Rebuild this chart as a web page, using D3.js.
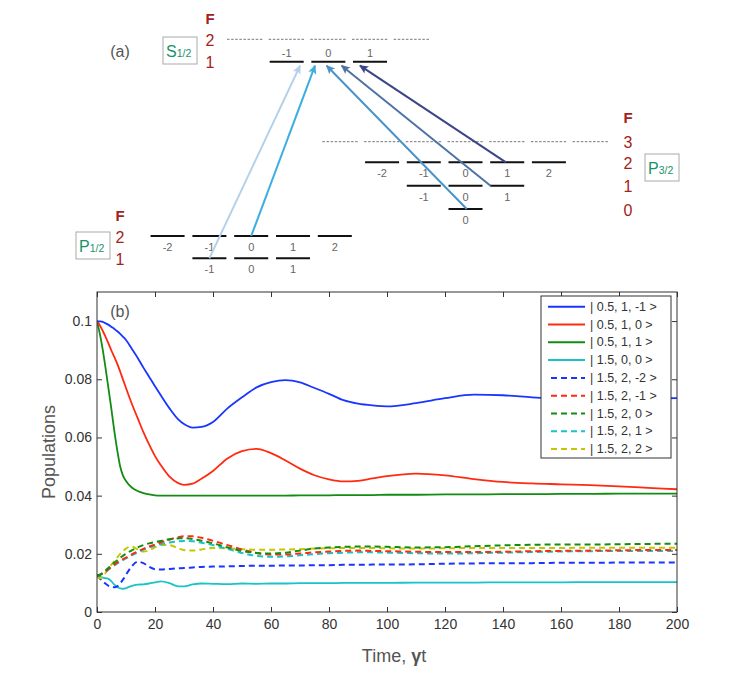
<!DOCTYPE html>
<meta charset="utf-8">
<title>Level scheme and populations</title>
<style>
body { margin: 0; background: #fff; }
text { font-family: "Liberation Sans", Arial, sans-serif; }
.axis path, .axis line { stroke: #333; }
.axis text { fill: #333; font-size: 14px; }
</style>
<body>
<script src="https://cdn.jsdelivr.net/npm/d3@7/dist/d3.min.js"></script>
<script>
var width = 747, height = 677;

// ---- panel (b) data ----
var times = [0,1,2,3,4,5,6,7,8,9,10,12,14,16,18,20,22,25,28,30,33,36,40,45,50,55,60,65,70,75,80,85,90,95,100,110,120,130,140,150,160,170,180,190,200];

var s05_1_m1 = [0.1000,0.0999,0.0997,0.0992,0.0987,0.0980,0.0973,0.0965,0.0956,0.0946,0.0935,0.0905,0.0874,0.0840,0.0808,0.0776,0.0745,0.0700,0.0662,0.0646,0.0634,0.0636,0.0653,0.0700,0.0738,0.0772,0.0790,0.0797,0.0789,0.0770,0.0750,0.0728,0.0716,0.0710,0.0707,0.0718,0.0735,0.0747,0.0745,0.0738,0.0733,0.0731,0.0732,0.0734,0.0735];
var s05_1_0  = [0.1000,0.0985,0.0966,0.0945,0.0922,0.0898,0.0876,0.0853,0.0826,0.0798,0.0770,0.0716,0.0667,0.0618,0.0575,0.0536,0.0505,0.0465,0.0443,0.0437,0.0441,0.0458,0.0485,0.0528,0.0553,0.0561,0.0546,0.0521,0.0493,0.0470,0.0456,0.0449,0.0451,0.0459,0.0467,0.0476,0.0470,0.0457,0.0447,0.0442,0.0439,0.0436,0.0432,0.0427,0.0422];
var s05_1_1  = [0.1000,0.0955,0.0900,0.0835,0.0765,0.0695,0.0620,0.0555,0.0500,0.0468,0.0450,0.0428,0.0416,0.0409,0.0404,0.0401,0.0400,0.0400,0.0400,0.0400,0.0400,0.0400,0.0400,0.0400,0.0400,0.0400,0.0400,0.0400,0.0401,0.0401,0.0401,0.0402,0.0402,0.0402,0.0403,0.0403,0.0404,0.0404,0.0405,0.0405,0.0406,0.0406,0.0407,0.0407,0.0407];
var s15_0_0  = [0.0125,0.0122,0.0118,0.0116,0.0114,0.0105,0.0094,0.0086,0.0081,0.0080,0.0082,0.0090,0.0094,0.0095,0.0098,0.0102,0.0105,0.0099,0.0088,0.0088,0.0095,0.0098,0.0097,0.0096,0.0098,0.0097,0.0098,0.0098,0.0099,0.0099,0.0099,0.0100,0.0100,0.0100,0.0100,0.0101,0.0101,0.0101,0.0102,0.0102,0.0102,0.0103,0.0103,0.0103,0.0103];
var s15_2_m2 = [0.0125,0.0115,0.0105,0.0097,0.0090,0.0087,0.0085,0.0088,0.0098,0.0112,0.0128,0.0157,0.0173,0.0168,0.0155,0.0147,0.0146,0.0148,0.0150,0.0151,0.0153,0.0155,0.0156,0.0157,0.0158,0.0159,0.0159,0.0160,0.0160,0.0161,0.0161,0.0162,0.0162,0.0163,0.0163,0.0164,0.0166,0.0167,0.0168,0.0168,0.0169,0.0169,0.0170,0.0170,0.0170];
var s15_2_m1 = [0.0125,0.0128,0.0133,0.0140,0.0148,0.0155,0.0163,0.0170,0.0176,0.0182,0.0187,0.0198,0.0208,0.0217,0.0225,0.0232,0.0239,0.0249,0.0257,0.0260,0.0260,0.0255,0.0245,0.0230,0.0215,0.0203,0.0198,0.0198,0.0201,0.0205,0.0208,0.0210,0.0211,0.0210,0.0209,0.0207,0.0206,0.0206,0.0207,0.0209,0.0210,0.0211,0.0212,0.0213,0.0213];
var s15_2_0  = [0.0125,0.0128,0.0135,0.0143,0.0152,0.0160,0.0170,0.0178,0.0186,0.0194,0.0200,0.0212,0.0222,0.0230,0.0236,0.0240,0.0244,0.0250,0.0253,0.0254,0.0251,0.0245,0.0236,0.0222,0.0210,0.0203,0.0201,0.0204,0.0211,0.0218,0.0222,0.0224,0.0225,0.0225,0.0224,0.0222,0.0223,0.0226,0.0229,0.0231,0.0232,0.0232,0.0233,0.0234,0.0235];
var s15_2_1  = [0.0125,0.0127,0.0132,0.0138,0.0146,0.0153,0.0160,0.0167,0.0173,0.0179,0.0184,0.0195,0.0205,0.0214,0.0222,0.0228,0.0233,0.0239,0.0243,0.0244,0.0243,0.0238,0.0230,0.0217,0.0203,0.0193,0.0190,0.0191,0.0195,0.0199,0.0202,0.0204,0.0205,0.0205,0.0204,0.0202,0.0201,0.0202,0.0204,0.0206,0.0208,0.0209,0.0210,0.0210,0.0210];
var s15_2_2  = [0.0120,0.0116,0.0122,0.0135,0.0150,0.0163,0.0175,0.0188,0.0200,0.0210,0.0218,0.0225,0.0215,0.0208,0.0212,0.0222,0.0230,0.0230,0.0219,0.0213,0.0211,0.0215,0.0220,0.0219,0.0216,0.0214,0.0214,0.0215,0.0216,0.0218,0.0219,0.0220,0.0220,0.0220,0.0219,0.0218,0.0219,0.0220,0.0220,0.0220,0.0220,0.0221,0.0221,0.0221,0.0221];

var seriesNames = ["| 0.5, 1, -1 >","| 0.5, 1, 0 >","| 0.5, 1, 1 >","| 1.5, 0, 0 >","| 1.5, 2, -2 >","| 1.5, 2, -1 >","| 1.5, 2, 0 >","| 1.5, 2, 1 >","| 1.5, 2, 2 >"];
var seriesValues = [s05_1_m1, s05_1_0, s05_1_1, s15_0_0, s15_2_m2, s15_2_m1, s15_2_0, s15_2_1, s15_2_2];
var seriesColors = ["#1a35ff","#ff2a10","#128c12","#18c4c8","#1a35ff","#ff2a10","#128c12","#18c4c8","#c6c600"];
var seriesDashed = [false,false,false,false,true,true,true,true,true];
var yTicks = [0,0.02,0.04,0.06,0.08,0.1];
var xTicks = [0,20,40,60,80,100,120,140,160,180,200];

// ---- panel (a) data ----
var mS_F1 = [-1,0,1], mS_F2 = [-2,-1,0,1,2];
var mP3_F3 = [-3,-2,-1,0,1,2,3], mP3_F2 = [-2,-1,0,1,2], mP3_F1 = [-1,0,1], mP3_F0 = [0];
var mP1_F2 = [-2,-1,0,1,2], mP1_F1 = [-1,0,1];
// arrows: source manifold, F, m (+ offset in m units) -> target m in S1/2 F=1 (+ offset)
var pumpArrows = [
  {src:"P1", F:1, m:-1, dm:0,    to:-1, tdm:0.32,  color:"#b4d1ea"},
  {src:"P1", F:2, m:0,  dm:0,    to:0,  tdm:-0.32, color:"#3daedf"},
  {src:"P3", F:0, m:0,  dm:0.03, to:0,  tdm:-0.04, color:"#4a93c9"},
  {src:"P3", F:1, m:1,  dm:-0.4, to:0,  tdm:0.32,  color:"#4f72a6"},
  {src:"P3", F:2, m:1,  dm:-0.03,to:1,  tdm:-0.24, color:"#3a4588"}
];

var svg = d3.select("body").append("svg").attr("width", width).attr("height", height);

// ================= panel (a) =================
var g = svg.append("g");
var xS = d3.scaleLinear().domain([-1,1]).range([286.7,370]);
var yS = d3.scaleOrdinal().domain([2,1]).range([39.3,61.7]);
var xP3 = d3.scaleLinear().domain([-1,1]).range([423.8,507.2]);
var yP3 = d3.scaleOrdinal().domain([3,2,1,0]).range([141.7,162.3,185.7,209]);
var xP1 = d3.scaleLinear().domain([-1,1]).range([209.4,293]);
var yP1 = d3.scaleOrdinal().domain([2,1]).range([236,258.3]);
var halfW = 17;

function dashedLevel(ms, xs, y) {
  g.selectAll(null).data(ms).enter().append("line")
    .attr("x1", d => xs(d) - halfW - 1).attr("x2", d => xs(d) + halfW + 1)
    .attr("y1", y).attr("y2", y)
    .attr("stroke", "#777").attr("stroke-width", 1).attr("stroke-dasharray", "2.5,1.6");
}
function solidLevel(ms, xs, y, labelDy) {
  g.selectAll(null).data(ms).enter().append("line")
    .attr("x1", d => xs(d) - halfW).attr("x2", d => xs(d) + halfW)
    .attr("y1", y).attr("y2", y)
    .attr("stroke", "#111").attr("stroke-width", 2);
  g.selectAll(null).data(ms).enter().append("text")
    .attr("x", d => xs(d)).attr("y", y + labelDy)
    .attr("text-anchor", "middle").attr("dominant-baseline", "central")
    .attr("font-size", "11px").attr("fill", "#666")
    .text(d => d);
}
dashedLevel(mS_F2, xS, yS(2));
solidLevel(mS_F1, xS, yS(1), -9);
dashedLevel(mP3_F3, xP3, yP3(3));
solidLevel(mP3_F2, xP3, yP3(2), 11);
solidLevel(mP3_F1, xP3, yP3(1), 11);
solidLevel(mP3_F0, xP3, yP3(0), 11);
solidLevel(mP1_F2, xP1, yP1(2), 11);
solidLevel(mP1_F1, xP1, yP1(1), 11);

// F columns
function fColumn(x, yF, list, yfun) {
  g.append("text").attr("x", x).attr("y", yF).attr("text-anchor", "middle")
    .attr("dominant-baseline", "central").attr("font-size", "15px")
    .attr("font-weight", "bold").attr("fill", "#a3231b").text("F");
  g.selectAll(null).data(list).enter().append("text")
    .attr("x", x).attr("y", d => yfun(d) + 1).attr("text-anchor", "middle")
    .attr("dominant-baseline", "central").attr("font-size", "16px")
    .attr("fill", "#a3231b").text(d => d);
}
fColumn(210, 18, [2,1], yS);
fColumn(628, 117, [3,2,1,0], yP3);
fColumn(120, 215, [2,1], yP1);

// boxed term labels
function termBox(x, y, letter, sub) {
  g.append("rect").attr("x", x).attr("y", y).attr("width", 34).attr("height", 27)
    .attr("fill", "#fff").attr("stroke", "#aaa").attr("stroke-width", 1);
  var t = g.append("text").attr("x", x + 3).attr("y", y + 19.5)
    .attr("fill", "#17936a").attr("font-size", "16px");
  t.append("tspan").text(letter);
  t.append("tspan").attr("font-size", "10.5px").text(sub);
}
termBox(163, 37, "S", "1/2");
termBox(76, 232, "P", "1/2");
termBox(645, 154, "P", "3/2");

g.append("text").attr("x", 120).attr("y", 51).attr("text-anchor", "middle")
  .attr("dominant-baseline", "central").attr("font-size", "16px").attr("fill", "#555").text("(a)");

// arrows
var defs = svg.append("defs");
pumpArrows.forEach(function(a, i) {
  defs.append("marker").attr("id", "ah" + i).attr("markerUnits", "userSpaceOnUse")
    .attr("viewBox", "-10 -6 12 12").attr("refX", 0).attr("refY", 0)
    .attr("markerWidth", 12).attr("markerHeight", 12).attr("orient", "auto")
    .append("path").attr("d", "M1,0 L-8,-4.2 L-6,0 L-8,4.2 Z").attr("fill", a.color);
});
g.selectAll(".pump").data(pumpArrows).enter().append("line")
  .attr("class", "pump")
  .attr("x1", d => (d.src === "P1" ? xP1 : xP3)(d.m + d.dm))
  .attr("y1", d => (d.src === "P1" ? yP1 : yP3)(d.F))
  .attr("x2", d => xS(d.to + d.tdm))
  .attr("y2", yS(1) + 4)
  .attr("stroke", d => d.color).attr("stroke-width", 2)
  .attr("marker-end", (d, i) => "url(#ah" + i + ")");

// ================= panel (b) =================
var x = d3.scaleLinear().domain([0,200]).range([97,677]);
var y = d3.scaleLinear().domain([0,0.11]).range([612,292]);
var fmt = d => d === 0 ? "0" : String(+d.toFixed(2));

svg.append("g").attr("class", "axis").attr("transform", "translate(0,612)")
  .call(d3.axisBottom(x).tickValues(xTicks).tickSizeInner(-5).tickSizeOuter(0).tickPadding(7))
  .call(g => g.select(".domain").remove());
svg.append("g").attr("class", "axis").attr("transform", "translate(97,0)")
  .call(d3.axisLeft(y).tickValues(yTicks).tickFormat(fmt).tickSizeInner(-5).tickSizeOuter(0).tickPadding(5))
  .call(g => g.select(".domain").remove());
svg.append("g").attr("class", "axis").attr("transform", "translate(0,292)")
  .call(d3.axisTop(x).tickValues(xTicks).tickSizeInner(-5).tickSizeOuter(0).tickFormat(""))
  .call(g => g.select(".domain").remove());
svg.append("g").attr("class", "axis").attr("transform", "translate(677,0)")
  .call(d3.axisRight(y).tickValues(yTicks).tickSizeInner(-5).tickSizeOuter(0).tickFormat(""))
  .call(g => g.select(".domain").remove());

defs.append("clipPath").attr("id", "plotclip").append("rect")
  .attr("x", 97).attr("y", 292).attr("width", 580).attr("height", 320);

var line = d3.line().x((d, i) => x(times[i])).y(d => y(d)).curve(d3.curveMonotoneX);
var order = [3,4,8,7,5,6,2,1,0];
svg.append("g").attr("clip-path", "url(#plotclip)")
  .selectAll("path").data(order).enter().append("path")
  .attr("d", k => line(seriesValues[k]))
  .attr("fill", "none")
  .attr("stroke", k => seriesColors[k])
  .attr("stroke-width", k => seriesDashed[k] ? 2 : 1.8)
  .attr("stroke-dasharray", k => seriesDashed[k] ? "6,4" : null);

svg.append("rect").attr("x", 97).attr("y", 292).attr("width", 580).attr("height", 320)
  .attr("fill", "none").attr("stroke", "#333").attr("stroke-width", 1);

svg.append("text").attr("x", 120).attr("y", 311).attr("text-anchor", "middle")
  .attr("dominant-baseline", "central").attr("font-size", "16px").attr("fill", "#555").text("(b)");

// legend
var lg = svg.append("g").attr("transform", "translate(541,296)");
lg.append("rect").attr("width", 130).attr("height", 162).attr("fill", "#fff")
  .attr("stroke", "#333").attr("stroke-width", 1);
var rows = lg.selectAll(".row").data(seriesNames).enter().append("g")
  .attr("class", "row").attr("transform", (d, i) => "translate(0," + (10.7 + i * 17.8) + ")");
rows.append("line").attr("x1", 7).attr("x2", 44).attr("y1", 0).attr("y2", 0)
  .attr("stroke", (d, i) => seriesColors[i]).attr("stroke-width", 2)
  .attr("stroke-dasharray", (d, i) => seriesDashed[i] ? "6,4" : null)
  .attr("stroke-dashoffset", (d, i) => seriesDashed[i] ? -3 : null);
rows.append("text").attr("x", 49).attr("y", 0).attr("dominant-baseline", "central")
  .attr("font-size", "12.5px").attr("fill", "#333").text(d => d);

// axis titles
svg.append("text").attr("transform", "translate(49,452) rotate(-90)")
  .attr("text-anchor", "middle").attr("dominant-baseline", "central")
  .attr("font-size", "18px").attr("fill", "#555").text("Populations");
var xt = svg.append("text").attr("x", 394).attr("y", 656).attr("text-anchor", "middle")
  .attr("dominant-baseline", "central").attr("font-size", "18px").attr("fill", "#555");
xt.append("tspan").text("Time, ");
xt.append("tspan").attr("font-weight", "bold").text("γ");
xt.append("tspan").text("t");
</script>
</body>
